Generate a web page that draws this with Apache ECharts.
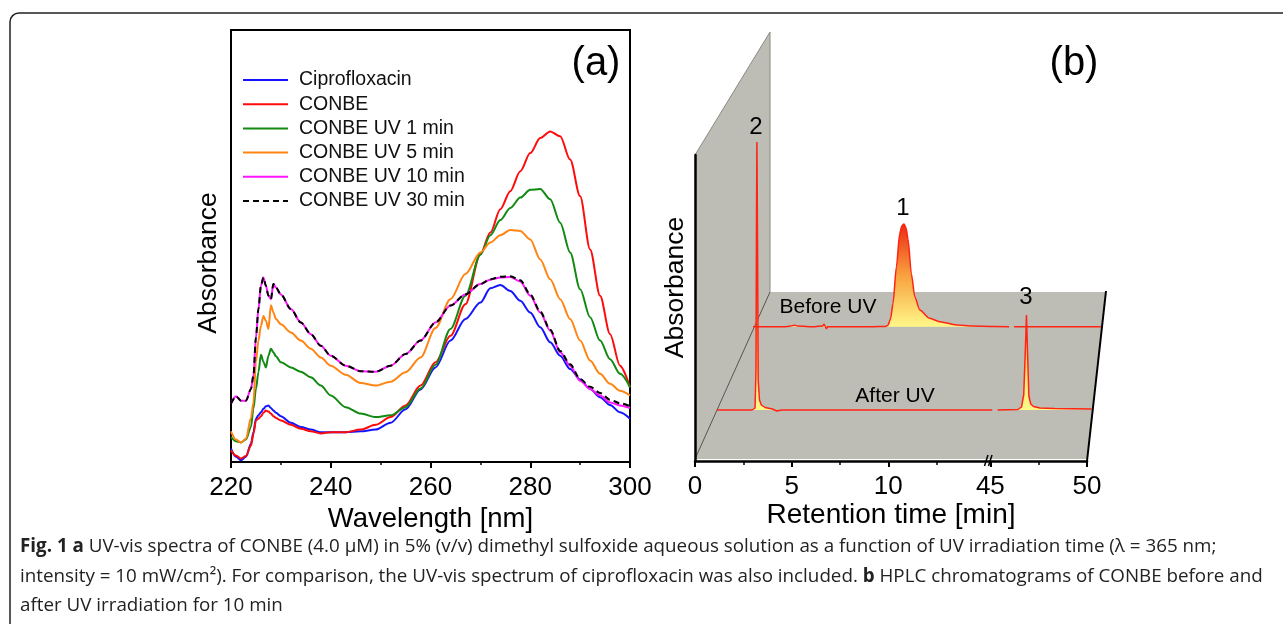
<!DOCTYPE html>
<html>
<head>
<meta charset="utf-8">
<script src="https://cdn.jsdelivr.net/npm/echarts@6/dist/echarts.min.js"></script>
<style>
  html, body { margin: 0; padding: 0; background: #fff; }
  #main { width: 1283px; height: 624px; }
</style>
</head>
<body>
<div id="main"></div>
<script>
// (a) UV-vis spectra, absorbance in arbitrary units
const wavelength = [220, 221, 222, 223, 224, 224.5, 225, 225.5, 226, 226.5, 227, 227.5, 228, 228.5, 229, 230,
  232, 234, 236, 238, 240, 243, 246, 249, 252, 255, 258, 261, 264, 267, 270,
  272, 274, 276, 278, 280, 282, 284, 286, 288, 290, 292, 294, 296, 298, 300];
const ciprofloxacin = [.031, .012, .004, .012, .042, .069, .100, .108, .115, .123, .129, .131, .125, .119, .114, .106,
  .091, .081, .075, .069, .069, .069, .071, .075, .091, .122, .168, .219, .281, .331, .369,
  .402, .410, .396, .373, .346, .312, .277, .246, .215, .191, .169, .150, .132, .115, .100];
const conbe = [.027, .015, .008, .014, .038, .065, .096, .100, .106, .114, .119, .117, .112, .106, .102, .096,
  .086, .077, .071, .066, .069, .069, .075, .086, .104, .131, .177, .231, .292, .365, .481,
  .531, .585, .627, .673, .715, .750, .765, .754, .700, .615, .492, .385, .296, .223, .173];
const uv1 = [.058, .048, .045, .052, .081, .123, .169, .208, .248, .232, .219, .246, .262, .254, .245, .231,
  .219, .209, .196, .177, .154, .127, .112, .104, .108, .127, .170, .225, .308, .385, .480,
  .525, .560, .588, .612, .630, .632, .608, .554, .485, .400, .335, .281, .238, .204, .173];
const uv5 = [.071, .052, .045, .054, .102, .138, .231, .281, .315, .338, .327, .308, .363, .346, .331, .319,
  .300, .281, .262, .242, .223, .202, .183, .177, .186, .208, .242, .310, .377, .435, .485,
  .508, .525, .537, .535, .515, .469, .423, .377, .331, .281, .235, .204, .181, .165, .154];
const uv10 = [.135, .152, .142, .142, .169, .200, .288, .354, .408, .427, .408, .385, .377, .412, .404, .388,
  .354, .323, .296, .269, .246, .223, .210, .209, .223, .250, .281, .323, .362, .388, .412,
  .422, .427, .428, .418, .385, .346, .304, .254, .223, .188, .169, .154, .138, .131, .125];
const uv30 = [.135, .152, .142, .142, .169, .200, .288, .354, .408, .427, .408, .385, .377, .412, .404, .388,
  .354, .323, .296, .269, .246, .223, .210, .209, .223, .250, .281, .323, .362, .388, .412,
  .423, .429, .430, .421, .388, .348, .306, .257, .226, .192, .174, .160, .144, .136, .129];

// (b) HPLC chromatograms, retention time [min] and absorbance [mAU]
const beforeTime = [0, 1.8, 2.2, 2.4, 2.6, 3.6, 4.05, 4.13, 4.2, 4.27, 4.35, 5.5, 7.0, 7.7, 7.85,
  8.0, 8.14, 8.34, 8.53, 8.66, 8.78, 8.9, 9.02, 9.21, 9.41, 9.7, 10.28, 10.86, 11.83, 12.8,
  14.0, 14.9, 30, 44.9, 47.0, 50];
const beforeAbs = [0, 0, 0.6, 1.5, 0.6, 0, 0.8, 2.5, 0.5, -2, 0, 0, 0, 0.3, 1.5,
  8, 23, 60, 93, 101, 102.7, 99, 87, 53, 30, 16.7, 8.4, 5, 1.7, 0.7,
  0.2, 0, null, 0, 0, 0];
const afterTime = [0, 1.9, 2.06, 2.11, 2.14, 2.16, 2.19, 2.23, 2.3, 2.4, 2.6, 3.0, 3.24, 3.3, 3.36,
  3.5, 3.85, 3.92, 4.0, 8.0, 14.9, 30, 44.9, 46.0, 46.2, 46.32, 46.4, 46.47, 46.54, 46.6,
  46.7, 46.85, 47.2, 48.0, 50];
const afterAbs = [0, 0, 2, 40, 200, 268, 180, 30, 10, 5, 2.5, 1, -1, -3, -0.5,
  0, 0, 2, 0, 0, 0, null, 0, 0.5, 3, 15, 55, 95, 50, 14,
  6, 3.5, 2, 1.5, 1];
const rtBreak = [14.9, 44.9];
const rtTicks = [0, 5, 10, 45, 50];
const rtMinorTicks = [2.5, 7.5, 12.5, 47.5];

const FONT = "'Liberation Sans', Arial, sans-serif";
const pairs = (xs, ys) => xs.map((x, i) => [x, ys[i]]);

// broken time axis: 14.9 .. 44.9 min is cut out, leaving a small gap
const GAP = 0.28;
const rtToAxis = t => t <= rtBreak[0] ? t
  : (t >= rtBreak[1] ? t - (rtBreak[1] - rtBreak[0]) + GAP : rtBreak[0] + GAP / 2);
const axisToRt = v => v <= rtBreak[0] ? v : v + (rtBreak[1] - rtBreak[0]) - GAP;
const rtMax = rtToAxis(50);
const trace = (ts, ys) => ts.map((t, i) => [rtToAxis(t), ys[i]]);

const spectra = [
  { name: 'Ciprofloxacin', data: ciprofloxacin, color: '#1414ff' },
  { name: 'CONBE', data: conbe, color: '#ff0a0a' },
  { name: 'CONBE UV 1 min', data: uv1, color: '#128a12' },
  { name: 'CONBE UV 5 min', data: uv5, color: '#ff8412' },
  { name: 'CONBE UV 10 min', data: uv10, color: '#ff14ff' },
  { name: 'CONBE UV 30 min', data: uv30, color: '#000000', dash: [6, 4] }
];

// legend icons: plain line / dashed line
const SOLID_ICON = 'path://M0,0h0.01v0.01h-0.01z M0,8.5h45v2h-45z M0,19h0.01v0.01h-0.01z';
const DASH_ICON = 'path://M0,0h0.01v0.01h-0.01z M0,8.5h6v2h-6z M10,8.5h6v2h-6z M20,8.5h6v2h-6z M30,8.5h6v2h-6z M40,8.5h5v2h-5z M0,19h0.01v0.01h-0.01z';

const peakFill = () => new echarts.graphic.LinearGradient(0, 0, 0, 1, [
  { offset: 0, color: '#ec2a12' },
  { offset: 0.5, color: '#f8a340' },
  { offset: 1, color: '#fffb8c' }
]);

const hiddenRtAxis = (grid) => ({ type: 'value', gridIndex: grid, show: false, min: 0, max: rtMax });
const hiddenAbsAxis = (grid) => ({ type: 'value', gridIndex: grid, show: false, min: -20, max: 300 });

const chart = echarts.init(document.getElementById('main'));
chart.setOption({
  animation: false,
  textStyle: { fontFamily: FONT, color: '#000' },
  legend: {
    data: spectra.map(s => ({ name: s.name, icon: s.dash ? DASH_ICON : SOLID_ICON })),
    orient: 'vertical',
    left: 243, top: 70, padding: 0,
    itemWidth: 45, itemHeight: 19, itemGap: 4.2,
    textStyle: { fontSize: 19.5, color: '#111', fontFamily: FONT, padding: [0, 0, 0, 6] }
  },
  grid: [
    { left: 231, top: 30, width: 399, height: 432, show: true, borderColor: '#000', borderWidth: 2 },
    { left: 695, top: 155, width: 392, height: 306 },
    { left: 753, top: 26.7, width: 348.7, height: 320 },
    { left: 717, top: 110, width: 374.7, height: 320 }
  ],
  xAxis: [
    {
      type: 'value', gridIndex: 0, min: 220, max: 300, interval: 20,
      axisLine: { lineStyle: { color: '#000', width: 2 } },
      axisTick: { length: 6, lineStyle: { color: '#000', width: 2 } },
      minorTick: { show: true, splitNumber: 2, length: 3, lineStyle: { color: '#000', width: 1.5 } },
      splitLine: { show: false },
      axisLabel: { fontSize: 26, color: '#000', margin: 13 },
      name: 'Wavelength [nm]', nameLocation: 'middle', nameGap: 31,
      nameTextStyle: { fontSize: 27.5, color: '#000' }
    },
    {
      type: 'value', gridIndex: 1, min: 0, max: rtMax, position: 'bottom',
      axisLine: { onZero: false, lineStyle: { color: '#000', width: 2.5 } },
      axisTick: { customValues: rtTicks.map(rtToAxis), length: 6, lineStyle: { color: '#000', width: 2 } },
      splitLine: { show: false },
      axisLabel: {
        customValues: rtTicks.map(rtToAxis), fontSize: 26, color: '#000', margin: 13,
        formatter: v => String(Math.round(axisToRt(v)))
      },
      name: 'Retention time [min]', nameLocation: 'middle', nameGap: 36,
      nameTextStyle: { fontSize: 28, color: '#000' }
    },
    {
      // minor ticks of the time axis
      type: 'value', gridIndex: 1, min: 0, max: rtMax, position: 'bottom',
      axisLine: { show: false, onZero: false },
      axisTick: { customValues: rtMinorTicks.map(rtToAxis), length: 4, lineStyle: { color: '#000', width: 1.5 } },
      axisLabel: { show: false }, splitLine: { show: false }
    },
    hiddenRtAxis(2),
    hiddenRtAxis(3)
  ],
  yAxis: [
    {
      type: 'value', gridIndex: 0, min: 0, max: 1,
      axisLine: { show: true, lineStyle: { color: '#000', width: 2 } },
      axisTick: { show: false }, axisLabel: { show: false }, splitLine: { show: false },
      name: 'Absorbance', nameLocation: 'middle', nameGap: 9,
      nameTextStyle: { fontSize: 26.5, color: '#000', padding: [0, 34, 0, 0] }
    },
    {
      type: 'value', gridIndex: 1, min: 0, max: 1,
      axisLine: { show: true, onZero: false, lineStyle: { color: '#000', width: 2.5 } },
      axisTick: { show: false }, axisLabel: { show: false }, splitLine: { show: false },
      name: 'Absorbance', nameLocation: 'middle', nameGap: 6,
      nameTextStyle: { fontSize: 26.5, color: '#000', padding: [0, 0, 0, 41] }
    },
    hiddenAbsAxis(2),
    hiddenAbsAxis(3)
  ],
  series: spectra.map(s => ({
    name: s.name, type: 'line', xAxisIndex: 0, yAxisIndex: 0,
    data: pairs(wavelength, s.data),
    symbol: 'none', smooth: 0.3, smoothMonotone: 'x',
    color: s.color,
    lineStyle: { color: s.color, width: 2, type: s.dash || 'solid' }
  })).concat([
    {
      name: 'Before UV', type: 'line', xAxisIndex: 3, yAxisIndex: 2,
      data: trace(beforeTime, beforeAbs), symbol: 'none', connectNulls: false,
      smooth: 0.25, smoothMonotone: 'x',
      lineStyle: { color: '#ff2414', width: 1.5 },
      areaStyle: { color: peakFill(), opacity: 1 }
    },
    {
      name: 'After UV', type: 'line', xAxisIndex: 4, yAxisIndex: 3,
      data: trace(afterTime, afterAbs), symbol: 'none', connectNulls: false,
      lineStyle: { color: '#ff2414', width: 1.5 },
      areaStyle: { color: peakFill(), opacity: 1 }
    }
  ]),
  graphic: [
    // figure frame
    { type: 'rect', shape: { x: 10, y: 13, width: 1300, height: 660, r: 9 },
      style: { fill: 'none', stroke: '#222', lineWidth: 1.5 } },
    // 3D backdrop of panel (b)
    { type: 'polygon', z: -5,
      shape: { points: [[695, 155], [770, 32], [770, 292], [1106, 292], [1087, 459], [695, 459]] },
      style: { fill: '#bebdb5' } },
    { type: 'polyline', z: -4, shape: { points: [[695, 155], [770, 32], [770, 292]] },
      style: { stroke: '#8a8982', lineWidth: 1, fill: 'none' } },
    { type: 'line', z: -4, shape: { x1: 770, y1: 292, x2: 695, y2: 459 },
      style: { stroke: '#55544f', lineWidth: 1 } },
    { type: 'line', z: 5, shape: { x1: 1106, y1: 291, x2: 1087, y2: 461 },
      style: { stroke: '#000', lineWidth: 2 } },
    // axis break marks
    { type: 'line', z: 10, shape: { x1: 984.5, y1: 466, x2: 988, y2: 455 },
      style: { stroke: '#000', lineWidth: 1.5 } },
    { type: 'line', z: 10, shape: { x1: 988.5, y1: 466, x2: 992, y2: 455 },
      style: { stroke: '#000', lineWidth: 1.5 } },
    // panel tags and peak labels
    { type: 'text', x: 596, y: 64, style: { text: '(a)', font: '40px ' + FONT, fill: '#000', align: 'center', verticalAlign: 'middle' } },
    { type: 'text', x: 1074, y: 64, style: { text: '(b)', font: '40px ' + FONT, fill: '#000', align: 'center', verticalAlign: 'middle' } },
    { type: 'text', x: 756, y: 127, z: 10, style: { text: '2', font: '24px ' + FONT, fill: '#000', align: 'center', verticalAlign: 'middle' } },
    { type: 'text', x: 903, y: 208, z: 10, style: { text: '1', font: '24px ' + FONT, fill: '#000', align: 'center', verticalAlign: 'middle' } },
    { type: 'text', x: 1026, y: 297, z: 10, style: { text: '3', font: '24px ' + FONT, fill: '#000', align: 'center', verticalAlign: 'middle' } },
    { type: 'text', x: 828, y: 307, z: 10, style: { text: 'Before UV', font: '21px ' + FONT, fill: '#000', align: 'center', verticalAlign: 'middle' } },
    { type: 'text', x: 895, y: 396, z: 10, style: { text: 'After UV', font: '21px ' + FONT, fill: '#000', align: 'center', verticalAlign: 'middle' } },
    // caption
    {
      type: 'text', x: 20, y: 532,
      style: {
        text: '{b|Fig. 1 a} UV-vis spectra of CONBE (4.0 μM) in 5% (v/v) dimethyl sulfoxide aqueous solution as a function of UV irradiation time (λ = 365 nm;\n' +
              'intensity = 10 mW/cm²). For comparison, the UV-vis spectrum of ciprofloxacin was also included. {b|b} HPLC chromatograms of CONBE before and\n' +
              'after UV irradiation for 10 min',
        fontSize: 18.8, fontFamily: "'Open Sans', sans-serif", fill: '#222', lineHeight: 29.5,
        align: 'left', verticalAlign: 'top',
        rich: { b: { fontSize: 18.8, fontFamily: "'Open Sans', sans-serif", fontWeight: 'bold', fill: '#222', lineHeight: 29.5 } }
      }
    }
  ]
});
</script>
</body>
</html>
